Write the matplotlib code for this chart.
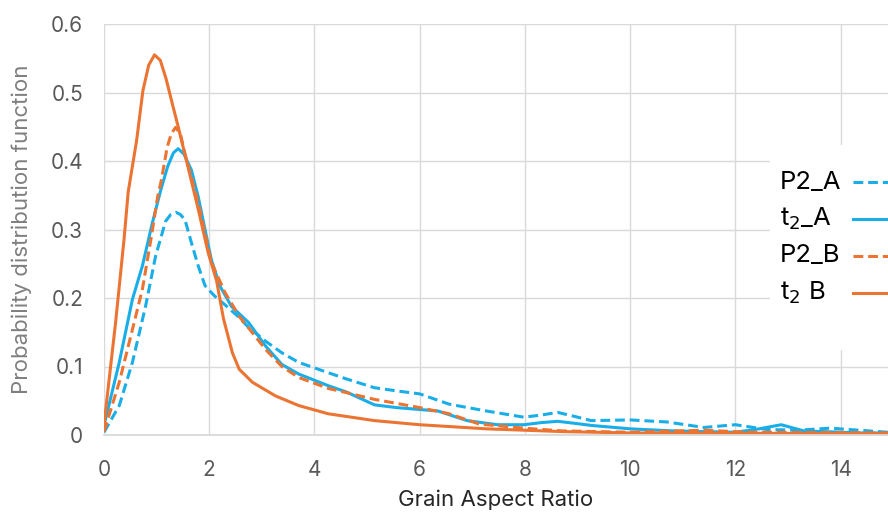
import numpy as np
import matplotlib.pyplot as plt
from matplotlib.patches import Rectangle
from matplotlib.lines import Line2D

plt.rcParams["font.family"] = ["Inter", "DejaVu Sans"]

# values
x_p2a = [0, 0.29, 0.54, 0.79, 0.98, 1.17, 1.27, 1.37, 1.45, 1.54, 1.66, 1.79, 1.92, 2.1, 2.3,
         2.52, 2.75, 3.07, 3.38, 3.70, 4.26, 4.6, 5.14, 5.6, 6.0, 6.56, 7.27, 7.98, 8.3, 8.62,
         8.95, 9.26, 10.0, 10.7, 11.4, 12.0, 12.6, 13.2, 13.8, 14.9]
y_p2a = [0.004, 0.043, 0.106, 0.188, 0.261, 0.312, 0.322, 0.325, 0.322, 0.314, 0.281, 0.247,
         0.218, 0.203, 0.19, 0.175, 0.157, 0.137, 0.12, 0.106, 0.091, 0.082, 0.069, 0.064,
         0.060, 0.045, 0.035, 0.026, 0.029, 0.033, 0.027, 0.021, 0.022, 0.019, 0.011, 0.015,
         0.008, 0.007, 0.010, 0.004]

x_t2a = [0, 0.29, 0.54, 0.73, 0.92, 1.08, 1.21, 1.32, 1.41, 1.52, 1.66, 1.79, 1.92, 2.04, 2.2,
         2.42, 2.75, 3.07, 3.38, 3.70, 4.26, 4.6, 5.14, 5.56, 6.35, 6.9, 7.48, 7.98, 8.3, 8.62,
         8.95, 9.26, 10.0, 10.8, 12.0, 12.45, 12.87, 13.3, 14.4, 14.9]
y_t2a = [0.014, 0.106, 0.198, 0.247, 0.31, 0.358, 0.392, 0.412, 0.418, 0.41, 0.387, 0.348,
         0.30, 0.256, 0.218, 0.188, 0.164, 0.13, 0.103, 0.089, 0.072, 0.063, 0.044, 0.040,
         0.035, 0.021, 0.015, 0.015, 0.018, 0.020, 0.017, 0.014, 0.009, 0.006, 0.004, 0.009,
         0.015, 0.006, 0.003, 0.003]

x_p2b = [0, 0.29, 0.54, 0.73, 0.89, 1.02, 1.09, 1.2, 1.28, 1.36, 1.45, 1.54, 1.79, 2.04, 2.3,
         2.58, 2.75, 3.07, 3.38, 3.70, 4.26, 4.6, 5.14, 6.0, 6.56, 7.13, 7.98, 8.7, 10.0, 11.4,
         12.25, 14.9]
y_p2b = [0.005, 0.077, 0.154, 0.213, 0.285, 0.348, 0.372, 0.42, 0.44, 0.449, 0.44, 0.41, 0.339,
         0.252, 0.208, 0.172, 0.156, 0.125, 0.10, 0.084, 0.068, 0.062, 0.052, 0.040, 0.031,
         0.016, 0.010, 0.006, 0.004, 0.007, 0.004, 0.003]

x_t2b = [0, 0.22, 0.38, 0.46, 0.62, 0.74, 0.85, 0.96, 1.07, 1.18, 1.3, 1.41, 1.6, 1.79, 1.98,
         2.14, 2.27, 2.44, 2.57, 2.82, 3.26, 3.70, 4.26, 5.14, 6.0, 7.27, 8.7, 10.0, 14.9]
y_t2b = [0.015, 0.164, 0.285, 0.355, 0.43, 0.503, 0.54, 0.555, 0.547, 0.52, 0.483, 0.45,
         0.39, 0.33, 0.266, 0.225, 0.17, 0.12, 0.096, 0.077, 0.057, 0.043, 0.031, 0.021,
         0.015, 0.009, 0.005, 0.003, 0.002]

labels = ["P2_A", "t$_2$_A", "P2_B", "t$_2$ B"]

blue = "#19AEE8"
orange = "#EC7432"
dash = (0, (3.2, 1.6))
styles = [(blue, dash), (blue, "-"), (orange, dash), (orange, "-")]

fig = plt.figure(figsize=(8.88, 5.14), dpi=100)
ax = fig.add_axes([104 / 888, 1 - 435 / 514, 1 - 104 / 888, 411 / 514])

series = [(x_p2a, y_p2a), (x_t2a, y_t2a), (x_p2b, y_p2b), (x_t2b, y_t2b)]
for (xs, ys), (c, ls) in zip(series, styles):
    ax.plot(xs, ys, color=c, lw=2.2, ls=ls)

ax.set_xlim(0, 14.9)
ax.set_ylim(0, 0.6)
ax.set_xticks(np.arange(0, 15, 2))
ax.set_yticks(np.arange(0, 0.61, 0.1))
ax.set_yticklabels(["0", "0.1", "0.2", "0.3", "0.4", "0.5", "0.6"])
ax.grid(True, color="#D9D9D9", lw=1)
ax.set_axisbelow(True)
for s in ["top", "right", "left"]:
    ax.spines[s].set_visible(False)
ax.spines["bottom"].set_color("#D9D9D9")
ax.spines["bottom"].set_linewidth(1.3)
ax.tick_params(length=0, labelsize=15, colors="#595959")
ax.tick_params(axis="y", pad=15)
ax.tick_params(axis="x", pad=18)

ax.set_xlabel("Grain Aspect Ratio", fontsize=16, color="#262626")
ax.xaxis.set_label_coords(0.5, (435 - 500) / 411)
ax.xaxis.label.set_va("center")
ax.set_ylabel("Probability distribution function", fontsize=16, color="#7F7F7F")
ax.yaxis.set_label_coords((22 - 104) / 784, 0.5)
ax.yaxis.label.set_va("center")

# legend drawn by hand: text on the left, line sample on the right
fig.add_artist(Rectangle((770 / 888, 1 - 350 / 514), 118 / 888, 205 / 514,
                         transform=fig.transFigure, facecolor="white",
                         edgecolor="none", zorder=5))
for lab, (c, ls), ypx in zip(labels, styles, [182, 219, 256, 293]):
    yf = 1 - ypx / 514
    fig.text(780 / 888, yf, lab, fontsize=18.5, color="black",
             ha="left", va="center", zorder=6)
    fig.add_artist(Line2D([853 / 888, 895 / 888], [yf, yf], transform=fig.transFigure,
                          color=c, lw=2.2, ls=ls, zorder=6))

fig.savefig("out.png", dpi=100)
